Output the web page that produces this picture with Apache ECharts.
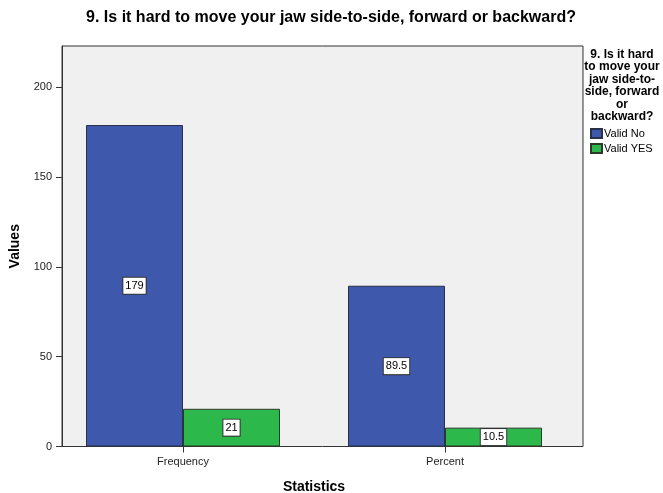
<!DOCTYPE html>
<html><head><meta charset="utf-8">
<script src="https://cdn.jsdelivr.net/npm/echarts@6/dist/echarts.min.js"></script>
<style>html,body{margin:0;padding:0;background:#fff}#c{width:663px;height:493px}</style>
</head><body><div id="c"></div>
<script>
const categories = ['Frequency', 'Percent'];
const validNo = [179, 89.5];
const validYes = [21, 10.5];
const seriesNames = ['Valid No', 'Valid YES'];
const yTicks = [0, 50, 100, 150, 200];

const chart = echarts.init(document.getElementById('c'));
const FONT = 'Liberation Sans, Arial, sans-serif';
const yMax = 223;
const labelStyle = {
  show: true, position: 'inside', color: '#000', fontSize: 11, fontFamily: FONT,
  backgroundColor: '#fff', borderColor: '#333', borderWidth: 1, padding: [3, 2, 2, 2]
};
chart.setOption({
  animation: false,
  backgroundColor: '#fff',
  title: [
    { text: '9. Is it hard to move your jaw side-to-side, forward or backward?',
      left: 331, top: 10, textAlign: 'center', padding: 0,
      textStyle: { fontSize: 16, fontWeight: 'bold', fontFamily: FONT, color: '#000' } },
    { text: '9. Is it hard\nto move your\njaw side-to-\nside, forward\nor\nbackward?',
      left: 622, top: 48.5, textAlign: 'center', padding: 0,
      textStyle: { fontSize: 12, fontWeight: 'bold', fontFamily: FONT, color: '#000', lineHeight: 12.4, align: 'center' } }
  ],
  legend: {
    orient: 'vertical', left: 585, top: 122, itemWidth: 11, itemHeight: 9, itemGap: 2,
    icon: 'rect', data: seriesNames,
    textStyle: { fontSize: 11, fontFamily: FONT, color: '#000', lineHeight: 13, padding: [0, 0, 0, -3] }
  },
  grid: [
    { left: 62, right: 80, top: 46, bottom: 46.5, show: true, backgroundColor: '#f0f0f0',
      borderColor: '#333', borderWidth: 1, outerBoundsMode: 'none', containLabel: false },
    { left: 52, width: 524, top: 46, bottom: 46.5, outerBoundsMode: 'none', containLabel: false }
  ],
  xAxis: [
    { gridIndex: 0, type: 'category', data: categories, show: false },
    { gridIndex: 1, type: 'category', data: categories,
      axisLine: { show: false },
      axisTick: { show: true, alignWithLabel: true, length: 6, lineStyle: { color: '#333' } },
      axisLabel: { fontSize: 11, fontFamily: FONT, color: '#222', margin: 10 },
      name: 'Statistics', nameLocation: 'middle', nameGap: 34,
      nameTextStyle: { fontSize: 14, fontWeight: 'bold', fontFamily: FONT, color: '#000' } }
  ],
  yAxis: [
    { gridIndex: 0, type: 'value', min: 0, max: yMax,
      axisLine: { show: true, lineStyle: { color: '#333' } },
      axisTick: { show: true, length: 6, customValues: yTicks, lineStyle: { color: '#333' } },
      axisLabel: { fontSize: 11, fontFamily: FONT, color: '#222', margin: 10, customValues: yTicks },
      splitLine: { show: false },
      name: 'Values', nameLocation: 'middle', nameGap: 40,
      nameTextStyle: { fontSize: 14, fontWeight: 'bold', fontFamily: FONT, color: '#000' } },
    { gridIndex: 1, type: 'value', min: 0, max: yMax, show: false }
  ],
  series: [
    { name: seriesNames[0], type: 'bar', xAxisIndex: 1, yAxisIndex: 1, data: validNo,
      barWidth: 97, barGap: '0%',
      itemStyle: { color: '#3e58ac', borderColor: '#2a2f4a', borderWidth: 1 },
      label: labelStyle },
    { name: seriesNames[1], type: 'bar', xAxisIndex: 1, yAxisIndex: 1, data: validYes,
      barWidth: 97, barGap: '0%',
      itemStyle: { color: '#2db84b', borderColor: '#2a3a2a', borderWidth: 1 },
      label: labelStyle }
  ]
});
</script></body></html>
